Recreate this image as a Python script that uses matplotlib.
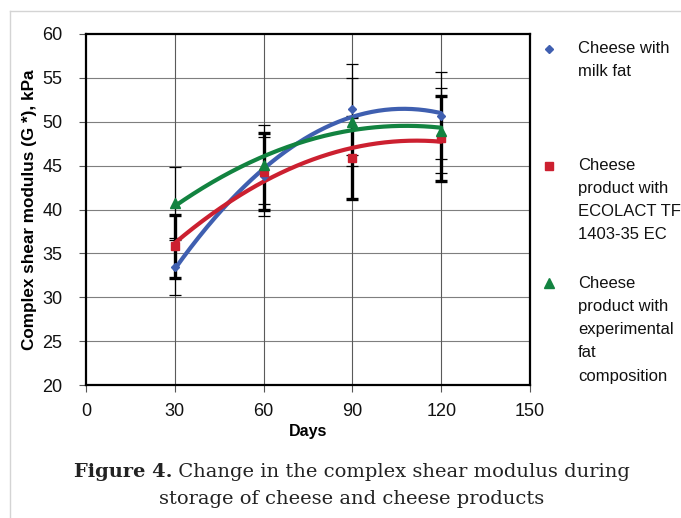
import numpy as np
import matplotlib
matplotlib.use("Agg")
import matplotlib.pyplot as plt
from matplotlib.lines import Line2D

days = [30, 60, 90, 120]
milk_fat = [33.5, 43.8, 51.4, 50.7]
ecolact = [35.8, 44.3, 45.9, 48.1]
experimental = [40.7, 45.1, 50.0, 49.0]
milk_fat_err = [3.3, 4.5, 5.15, 5.0]
ecolact_err = [3.6, 4.4, 4.65, 4.8]
experimental_err = [4.2, 4.5, 5.0, 4.8]
labels = ["Cheese with\nmilk fat",
          "Cheese\nproduct with\nECOLACT TF\n1403-35 EC",
          "Cheese\nproduct with\nexperimental\nfat\ncomposition"]
xticks = [0, 30, 60, 90, 120, 150]
yticks = [20, 25, 30, 35, 40, 45, 50, 55, 60]

SANS = ['Liberation Sans', 'DejaVu Sans']
plt.rcParams['font.family'] = SANS

W, H = 681, 518
fig = plt.figure(figsize=(W / 100, H / 100), dpi=100)
fig.patch.set_facecolor('white')

def fx(px):
    return px / W

def fy(py):
    return 1 - py / H

ax = fig.add_axes([fx(86), fy(385), fx(530) - fx(86), fy(34) - fy(385)])
ax.set_xlim(0, 150)
ax.set_ylim(20, 60)
ax.set_xticks(xticks)
ax.set_yticks(yticks)
ax.set_xticklabels([str(t) for t in xticks])
ax.set_yticklabels([str(t) for t in yticks])
ax.tick_params(axis='both', direction='out', length=5, width=0.8, color='#555555',
               labelsize=13, labelcolor='#111111')
ax.tick_params(axis='y', pad=12)
ax.tick_params(axis='x', pad=8)
for s in ax.spines.values():
    s.set_linewidth(1.6)
    s.set_color('black')
ax.set_axisbelow(True)
for y in yticks[1:-1]:
    ax.axhline(y, color='#7f7f7f', lw=0.8, zorder=0)
for x in xticks[1:-1]:
    ax.axvline(x, color='#5a5a5a', lw=0.8, zorder=0)

colors = ['#3f5fb0', '#cc2030', '#128340']
markers = ['D', 's', '^']
msizes = [4, 5.5, 7]
series = [milk_fat, ecolact, experimental]
errs = [milk_fat_err, ecolact_err, experimental_err]
elw = [0.9, 2.4, 0.9]

for vals, err, lw in zip(series, errs, elw):
    ax.errorbar(days, vals, yerr=err, fmt='none', ecolor='black', elinewidth=lw,
                capsize=4, capthick=lw, zorder=2)

xs = np.linspace(days[0], days[-1], 200)
for vals, c in zip(series, colors):
    coef = np.polyfit(days, vals, 2)
    ax.plot(xs, np.polyval(coef, xs), color=c, lw=3, solid_capstyle='round', zorder=3)

for vals, c, m, ms in zip(series, colors, markers, msizes):
    ax.plot(days, vals, linestyle='none', marker=m, color=c, markersize=ms, zorder=4)

ax.set_ylabel("Complex shear modulus (G *), kPa", fontsize=12.3, fontweight='bold',
              labelpad=4)
ax.set_xlabel("Days", fontsize=11.5, fontweight='bold', labelpad=3)

# legend (manual)
leg_marker_y = [49, 166, 283]
leg_top = [41, 158, 276]
for c, m, ms, lab, my, ty in zip(colors, markers, msizes, labels, leg_marker_y, leg_top):
    fig.add_artist(Line2D([fx(549)], [fy(my)], marker=m, color=c, markersize=ms,
                          linestyle='none', transform=fig.transFigure))
    fig.text(fx(578), fy(ty), lab, fontsize=12, va='top', ha='left',
             color='#111111', linespacing=1.68)

# frame lines of the page
fig.add_artist(Line2D([fx(10), 1], [fy(11), fy(11)], color='#d4d4d4', lw=1,
                      transform=fig.transFigure))
fig.add_artist(Line2D([fx(10), fx(10)], [fy(11), 0], color='#d4d4d4', lw=1,
                      transform=fig.transFigure))

# caption
SERIF = ['DejaVu Serif']
cap_fs = 14.0
renderer = fig.canvas.get_renderer()
t1 = fig.text(0, fy(477), "Figure 4.", fontsize=cap_fs, fontweight='bold',
              family=SERIF, color='#222222', va='baseline')
t2 = fig.text(0, fy(477), " Change in the complex shear modulus during",
              fontsize=cap_fs, family=SERIF, color='#222222', va='baseline')
w1 = t1.get_window_extent(renderer).width
w2 = t2.get_window_extent(renderer).width
start = 352 - (w1 + w2) / 2
t1.set_x(fx(start))
t2.set_x(fx(start + w1))
fig.text(fx(352), fy(503.5), "storage of cheese and cheese products", fontsize=cap_fs,
         family=SERIF, color='#222222', va='baseline', ha='center')

fig.savefig("out.png", dpi=100, facecolor='white')
